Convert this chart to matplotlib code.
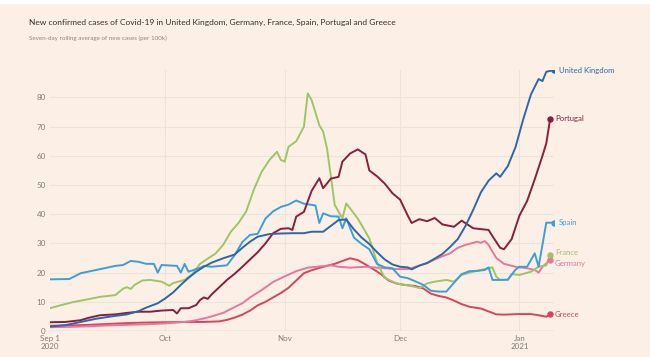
import numpy as np
import matplotlib
matplotlib.use("Agg")
import matplotlib.pyplot as plt
import matplotlib.dates as mdates
from matplotlib.patches import Rectangle
import datetime as dt

plt.rcParams['font.family'] = ['Lato', 'DejaVu Sans']

TITLE = "New confirmed cases of Covid-19 in United Kingdom, Germany, France, Spain, Portugal and Greece"
SUBTITLE = "Seven-day rolling average of new cases (per 100k)"
START = dt.date(2020, 9, 1)

# day offsets from Sep 1 2020, and values
uk_days = [0, 4, 8, 12, 16, 20, 23, 25, 28, 30, 32, 34, 36, 38, 40, 42, 45, 48, 50, 52, 54, 57, 60, 63, 66, 68, 71, 73, 75, 77, 79, 81, 83, 85, 87, 89, 91, 93, 94, 96, 98, 100, 102, 104, 106, 108, 110, 112, 114, 116, 117, 119, 121, 123, 125, 127, 128, 129, 131]
uk_vals = [1.5, 2.0, 3.1, 4.2, 5.0, 5.7, 6.8, 8.0, 9.5, 11.2, 13.2, 15.8, 18.2, 20.3, 22.0, 23.4, 24.9, 26.2, 28.5, 30.6, 32.3, 33.2, 33.4, 33.5, 33.5, 34.0, 34.0, 36.0, 38.0, 38.2, 34.8, 32.0, 29.8, 27.0, 24.5, 22.8, 22.0, 21.8, 21.1, 22.4, 23.3, 24.8, 26.4, 28.8, 31.5, 36.0, 41.5, 47.5, 51.5, 54.0, 52.8, 56.5, 63.0, 72.5, 81.0, 86.3, 85.6, 88.8, 89.4]

pt_days = [0, 4, 8, 10, 13, 17, 20, 23, 26, 29, 32, 33, 34, 36, 38, 39, 40, 41, 42, 44, 46, 48, 50, 52, 54, 56, 58, 60, 62, 63, 64, 66, 68, 70, 71, 73, 75, 76, 78, 80, 82, 83, 85, 87, 89, 91, 93, 94, 96, 98, 100, 102, 105, 107, 110, 114, 115, 117, 118, 120, 122, 124, 126, 128, 129, 130]
pt_vals = [3.0, 3.1, 3.7, 4.5, 5.4, 5.7, 6.2, 6.6, 6.6, 7.0, 7.2, 6.0, 7.8, 7.8, 8.9, 10.6, 11.5, 11.0, 12.5, 15.0, 17.5, 19.6, 22.0, 24.5, 27.0, 30.0, 33.5, 35.0, 35.2, 34.6, 39.2, 40.8, 48.0, 52.3, 48.9, 52.2, 52.8, 58.0, 60.8, 62.2, 60.5, 55.0, 53.0, 50.5, 47.2, 45.0, 39.5, 37.0, 38.3, 37.6, 38.7, 36.5, 35.7, 37.8, 35.2, 34.6, 32.5, 28.5, 28.0, 31.5, 39.5, 44.5, 52.0, 60.0, 64.3, 72.7]

es_days = [0, 5, 8, 12, 17, 19, 21, 23, 25, 27, 28, 29, 33, 34, 35, 36, 38, 39, 40, 42, 46, 48, 50, 52, 54, 56, 58, 60, 62, 64, 66, 68, 69, 70, 71, 73, 75, 76, 77, 79, 81, 83, 85, 87, 89, 91, 93, 95, 97, 99, 101, 103, 105, 107, 109, 111, 113, 114, 115, 117, 119, 121, 122, 124, 126, 127, 129, 131]
es_vals = [17.7, 17.8, 19.8, 20.9, 22.3, 22.6, 24.0, 23.7, 23.0, 23.0, 20.0, 22.6, 22.3, 20.0, 23.0, 20.3, 21.2, 21.6, 22.3, 22.0, 22.5, 26.0, 30.5, 32.9, 33.3, 38.5, 41.0, 42.5, 43.3, 44.7, 43.6, 43.2, 43.0, 37.0, 40.3, 39.3, 39.2, 35.2, 38.6, 32.0, 29.8, 28.0, 23.0, 21.8, 21.5, 18.6, 18.1, 17.0, 15.8, 13.8, 13.5, 13.5, 16.5, 19.5, 20.5, 20.6, 20.9, 21.8, 17.5, 17.5, 17.6, 21.0, 22.0, 22.0, 26.6, 22.0, 37.1, 37.1]

fr_days = [0, 3, 6, 10, 13, 17, 19, 20, 21, 22, 24, 26, 29, 31, 32, 35, 37, 39, 41, 43, 45, 47, 49, 51, 53, 55, 57, 59, 60, 61, 62, 64, 66, 67, 68, 70, 71, 72, 73, 74, 76, 77, 78, 80, 82, 83, 85, 87, 90, 94, 96, 98, 100, 103, 105, 107, 110, 112, 114, 115, 116, 117, 119, 120, 122, 125, 127, 129, 130]
fr_vals = [7.8, 8.9, 9.9, 10.9, 11.7, 12.3, 14.5, 15.0, 14.4, 15.8, 17.3, 17.5, 16.9, 15.5, 16.4, 17.5, 19.5, 23.0, 24.8, 26.5, 29.5, 34.0, 37.0, 41.0, 48.5, 54.5, 58.5, 61.4, 58.6, 58.0, 63.1, 65.0, 70.0, 81.4, 79.1, 70.5, 68.3, 62.5, 53.0, 43.2, 38.6, 43.7, 42.0, 38.5, 34.0, 31.7, 23.5, 18.2, 16.3, 15.4, 14.7, 16.3, 16.9, 17.5, 16.9, 19.2, 20.3, 20.9, 21.5, 21.8, 18.6, 17.5, 17.5, 19.5, 19.2, 20.3, 22.0, 22.5, 25.9]

de_days = [0, 5, 10, 15, 20, 25, 30, 34, 36, 38, 40, 42, 45, 48, 50, 52, 55, 58, 61, 64, 67, 70, 73, 75, 78, 82, 86, 90, 93, 95, 98, 100, 102, 104, 106, 108, 110, 111, 112, 113, 114, 115, 116, 118, 121, 124, 126, 127, 128, 130]
de_vals = [1.3, 1.4, 1.6, 1.9, 2.1, 2.3, 2.6, 3.0, 3.3, 3.7, 4.3, 5.0, 6.2, 8.2, 9.5, 11.5, 14.0, 16.8, 18.7, 20.5, 21.7, 22.1, 22.5, 22.0, 21.7, 22.0, 21.6, 21.2, 21.2, 22.0, 23.2, 24.5, 25.6, 26.6, 28.5, 29.5, 30.2, 30.6, 30.2, 30.8, 29.5, 27.2, 25.0, 23.0, 22.0, 21.5, 20.9, 20.0, 22.0, 24.3]

gr_days = [0, 5, 10, 15, 20, 25, 30, 35, 40, 44, 46, 48, 50, 52, 54, 56, 58, 60, 62, 64, 66, 68, 70, 72, 74, 76, 78, 80, 82, 84, 86, 88, 90, 92, 95, 97, 99, 101, 103, 105, 107, 109, 112, 114, 116, 118, 122, 125, 127, 129, 130]
gr_vals = [1.8, 1.9, 2.1, 2.4, 2.7, 2.9, 3.0, 3.1, 3.1, 3.3, 3.8, 4.6, 5.6, 7.0, 8.8, 10.0, 11.5, 13.0, 14.8, 17.3, 19.8, 20.8, 21.6, 22.3, 23.0, 24.0, 24.9, 24.3, 22.8, 21.2, 19.5, 17.3, 16.3, 15.8, 15.4, 14.6, 12.8, 12.0, 11.5, 10.4, 9.2, 8.3, 7.7, 6.7, 5.7, 5.6, 5.8, 5.8, 5.4, 4.9, 5.7]

countries = ["United Kingdom", "Portugal", "Spain", "France", "Germany", "Greece"]
colors = ["#2f67a6", "#861f40", "#3b9fd8", "#9ec468", "#e8769d", "#d5455d"]
series = [(uk_days, uk_vals), (pt_days, pt_vals), (es_days, es_vals),
          (fr_days, fr_vals), (de_days, de_vals), (gr_days, gr_vals)]
label_nudge = [0, 0, 0, 2.2, -2.2, 0]   # points, keeps France/Germany labels legible

yticks = [0, 10, 20, 30, 40, 50, 60, 70, 80]
month_ticks = [dt.date(2020, 9, 1), dt.date(2020, 10, 1), dt.date(2020, 11, 1),
               dt.date(2020, 12, 1), dt.date(2021, 1, 1)]
month_labels = ["Sep 1\n2020", "Oct", "Nov", "Dec", "Jan\n2021"]

BG = "#fcf0e6"
fig = plt.figure(figsize=(6.5, 3.57), dpi=100, facecolor=BG)
fig.patches.append(Rectangle((0, 1 - 4/357), 1, 4/357, transform=fig.transFigure,
                             facecolor="white", edgecolor="none", zorder=0))
ax = fig.add_axes([50/650, 1 - 331/357, (554 - 50)/650, (331 - 70)/357])
ax.set_facecolor(BG)

def to_dates(days):
    return [START + dt.timedelta(days=d) for d in days]

draw_order = [5, 4, 3, 2, 1, 0]
for i in draw_order:
    d, v = series[i]
    dates = to_dates(d)
    ax.plot(dates, v, color=colors[i], lw=1.4, solid_joinstyle="round", zorder=3 + (6 - i) * 0.1)
    ax.plot([dates[-1]], [v[-1]], "o", color=colors[i], ms=3.6, zorder=4)
    ax.annotate(countries[i], (mdates.date2num(dates[-1]), v[-1]), xytext=(3.5, label_nudge[i]),
                textcoords="offset points", va="center", ha="left",
                color=colors[i], fontsize=5.6, annotation_clip=False)

ax.set_xlim(mdates.date2num(START), mdates.date2num(START + dt.timedelta(days=131)))
ax.set_ylim(0, 89.4)
ax.set_yticks(yticks)
ax.set_yticklabels([str(t) for t in yticks])
ax.set_xticks([mdates.date2num(m) for m in month_ticks])
ax.set_xticklabels(month_labels)

for y in yticks[1:]:
    ax.axhline(y, color="#ece3da", lw=0.8, zorder=1)
for m in month_ticks[1:]:
    ax.axvline(mdates.date2num(m), color="#ece3da", lw=0.8, zorder=1)
ax.axhline(0, color="#b3aca5", lw=0.9, zorder=2)

for s in ax.spines.values():
    s.set_visible(False)
ax.tick_params(axis="both", length=0, labelsize=5.8, labelcolor="#837c76")
ax.tick_params(axis="y", pad=3)
ax.tick_params(axis="x", pad=3)
for lbl in ax.get_yticklabels():
    lbl.set_horizontalalignment("right")

fig.text(29/650, 1 - 22/357, TITLE, fontsize=6.0, color="#33302e", va="center", ha="left")
fig.text(29/650, 1 - 38.5/357, SUBTITLE, fontsize=4.5, color="#8e8680", va="center", ha="left")

fig.savefig("out.png", dpi=100, facecolor=BG)
